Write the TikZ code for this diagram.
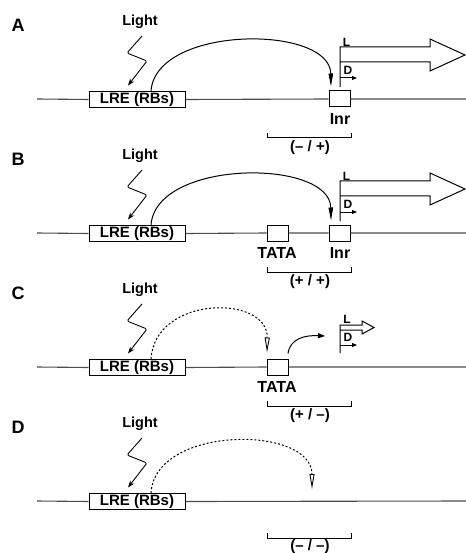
\documentclass[tikz,border=0pt]{standalone}
\usepackage{fontspec}
\setmainfont{Liberation Sans}
\usetikzlibrary{arrows.meta}
\tikzset{
  pnl/.style={font=\fontsize{18}{18}\selectfont\bfseries, inner sep=0pt},
  lighttxt/.style={font=\fontsize{14.5}{14.5}\selectfont\bfseries, inner sep=0pt},
  lre/.style={draw, line width=1pt, fill=white, minimum width=96pt, minimum height=16pt, inner sep=0pt,
              font=\fontsize{15}{15}\selectfont\bfseries},
  elem/.style={draw, line width=1pt, fill=white, minimum width=21pt, minimum height=16pt, inner sep=0pt},
  elemtxt/.style={font=\fontsize{16}{16}\selectfont\bfseries, inner sep=0pt},
  brtxt/.style={font=\fontsize{15}{15}\selectfont\bfseries, inner sep=0pt},
  smalltxt/.style={font=\fontsize{12}{12}\selectfont\bfseries, inner sep=0pt},
  dna/.style={line width=1.1pt, black!70},
  zig/.style={line width=0.9pt, rounded corners=1.5pt, -{Stealth[length=7pt,width=5pt]}},
  act/.style={line width=1pt, -{Triangle[length=13pt,width=4.5pt]}},
  dotact/.style={line width=1pt, dash pattern=on 2pt off 2pt, -{Triangle[open,length=15pt,width=5pt,line width=0.9pt]}},
  prom/.style={line width=1pt, fill=white, line join=miter},
  darr/.style={line width=1pt, -{Triangle[length=5pt,width=4pt]}},
  curv/.style={line width=1pt, -{Triangle[length=7pt,width=5pt]}},
  brk/.style={line width=1pt},
}
\begin{document}
\begin{tikzpicture}[x=1pt, y=-1pt]
\useasboundingbox (0,0) rectangle (465,553);

% ---------------- Panel A ----------------
\node[pnl] (pA) at (18,25) {A};
\node[lighttxt] (ltA) at (140,22) {Light};
\coordinate (sA) at (37,99);
\coordinate (eA) at (466,99);
\node[lre] (lreA) at (137,99.5) {LRE (RBs)};
\node[elem] (inrA) at (339.5,99) {};
\node[elemtxt] (inrtA) at (340,119) {Inr};
\draw[dna] (sA) -- (lreA.west) (lreA.east) -- (inrA.west) (inrA.east) -- (eA);
\draw[zig] ([shift={(2,7)}]ltA.south) -- ++(-15,17) -- ++(20,8) -- ([shift={(-9,-5.5)}]lreA.north);
\draw[act] ([xshift=14]lreA.north) .. controls +(5,-66) and +(-1,-62) .. ([shift={(-8.5,-4)}]inrA.north);
\coordinate (tssA) at (340,87);
\draw[prom] (tssA) -- (340,47) -- (430,47) -- (430,39) -- (465,55) -- (430,71) -- (430,62) -- (340,62);
\node[smalltxt] (LA) at (346.5,42) {L};
\node[smalltxt] (DA) at (348,70) {D};
\coordinate (dsA) at (340,78);
\coordinate (deA) at (357,78);
\draw[darr] (dsA) -- (deA);
\coordinate (b1A) at (267,133);
\coordinate (b2A) at (351,133);
\draw[brk] (b1A) -- (267,138) -- (351,138) -- (b2A);
\node[brtxt] (bA) at (310,148) {(– / +)};

% ---------------- Panel B ----------------
\begin{scope}[shift={(0,134)}]
\node[pnl] (pB) at (18,25) {B};
\node[lighttxt] (ltB) at (140,22) {Light};
\coordinate (sB) at (37,99);
\coordinate (eB) at (466,99);
\node[lre] (lreB) at (137,99.5) {LRE (RBs)};
\node[elem] (tataB) at (277.5,99) {};
\node[elem] (inrB) at (339.5,99) {};
\node[elemtxt] (tatatB) at (277,119) {TATA};
\node[elemtxt] (inrtB) at (340,119) {Inr};
\draw[dna] (sB) -- (lreB.west) (lreB.east) -- (tataB.west) (tataB.east) -- (inrB.west) (inrB.east) -- (eB);
\draw[zig] ([shift={(2,7)}]ltB.south) -- ++(-15,17) -- ++(20,8) -- ([shift={(-9,-5.5)}]lreB.north);
\draw[act] ([xshift=14]lreB.north) .. controls +(5,-66) and +(-1,-62) .. ([shift={(-8.5,-4)}]inrB.north);
\coordinate (tssB) at (340,87);
\draw[prom] (tssB) -- (340,47) -- (430,47) -- (430,39) -- (465,55) -- (430,71) -- (430,62) -- (340,62);
\node[smalltxt] (LB) at (346.5,42) {L};
\node[smalltxt] (DB) at (348,70) {D};
\coordinate (dsB) at (340,78);
\coordinate (deB) at (357,78);
\draw[darr] (dsB) -- (deB);
\coordinate (b1B) at (267,133);
\coordinate (b2B) at (351,133);
\draw[brk] (b1B) -- (267,138) -- (351,138) -- (b2B);
\node[brtxt] (bB) at (310,148) {(+ / +)};
\end{scope}

% ---------------- Panel C ----------------
\begin{scope}[shift={(0,268)}]
\node[pnl] (pC) at (18,25) {C};
\node[lighttxt] (ltC) at (140,22) {Light};
\coordinate (sC) at (37,99);
\coordinate (eC) at (466,99);
\node[lre] (lreC) at (137,99.5) {LRE (RBs)};
\node[elem] (tataC) at (277.5,99) {};
\node[elemtxt] (tatatC) at (277,119) {TATA};
\draw[dna] (sC) -- (lreC.west) (lreC.east) -- (tataC.west) (tataC.east) -- (eC);
\draw[zig] ([shift={(2,7)}]ltC.south) -- ++(-15,17) -- ++(20,8) -- ([shift={(-9,-5.5)}]lreC.north);
\draw[dotact] ([xshift=14]lreC.north) .. controls +(4,-64) and +(1,-58) .. ([shift={(-10.5,-6)}]tataC.north);
\coordinate (cC) at (325,68);
\draw[curv] ([shift={(10.5,-5)}]tataC.north) .. controls +(2,-15) and +(-20,-1) .. (cC);
\coordinate (tssC) at (340,85);
\draw[prom] (tssC) -- (340,57) -- (362,57) -- (362,53) -- (374,59.5) -- (362,66) -- (362,62) -- (340,62);
\node[smalltxt] (LC) at (347,51) {L};
\node[smalltxt] (DC) at (348,69.5) {D};
\coordinate (dsC) at (340,77);
\coordinate (deC) at (357,77);
\draw[darr] (dsC) -- (deC);
\coordinate (b1C) at (267,133);
\coordinate (b2C) at (351,133);
\draw[brk] (b1C) -- (267,138) -- (351,138) -- (b2C);
\node[brtxt] (bC) at (310,148) {(+ / –)};
\end{scope}

% ---------------- Panel D ----------------
\begin{scope}[shift={(0,402)}]
\node[pnl] (pD) at (18,25) {D};
\node[lighttxt] (ltD) at (140,22) {Light};
\coordinate (sD) at (37,99);
\coordinate (eD) at (466,99);
\node[lre] (lreD) at (137,99.5) {LRE (RBs)};
\draw[dna] (sD) -- (lreD.west) (lreD.east) -- (eD);
\draw[zig] ([shift={(2,7)}]ltD.south) -- ++(-15,17) -- ++(20,8) -- ([shift={(-9,-5.5)}]lreD.north);
\coordinate (tipD) at (312,87);
\draw[dotact] ([xshift=14]lreD.north) .. controls +(4,-68) and +(0,-64) .. (tipD);
\coordinate (b1D) at (267,131);
\coordinate (b2D) at (351,131);
\draw[brk] (b1D) -- (267,136.5) -- (351,136.5) -- (b2D);
\node[brtxt] (bD) at (310,144.5) {(– / –)};
\end{scope}
\end{tikzpicture}
\end{document}
